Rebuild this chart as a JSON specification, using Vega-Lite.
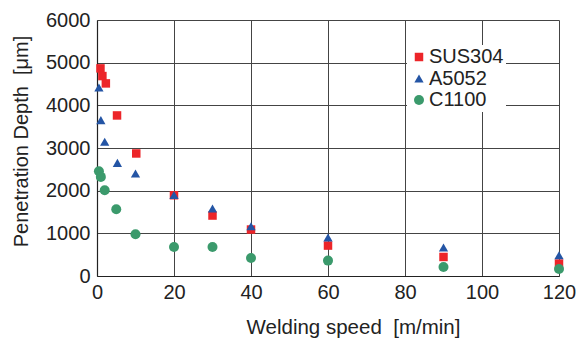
{
  "$schema": "https://vega.github.io/schema/vega-lite/v6.json",
  "width": 462,
  "height": 256,
  "autosize": {"type": "none"},
  "padding": {"left": 97, "top": 20, "right": 22, "bottom": 62},
  "background": "white",
  "config": {
    "font": "Liberation Sans",
    "view": {"stroke": null}
  },
  "data": {
    "values": [
      {"speed": 0.9, "depth": 4866, "material": "SUS304"},
      {"speed": 1.4, "depth": 4686, "material": "SUS304"},
      {"speed": 2.3, "depth": 4514, "material": "SUS304"},
      {"speed": 5.2, "depth": 3763, "material": "SUS304"},
      {"speed": 10.2, "depth": 2872, "material": "SUS304"},
      {"speed": 20, "depth": 1893, "material": "SUS304"},
      {"speed": 30, "depth": 1417, "material": "SUS304"},
      {"speed": 40, "depth": 1089, "material": "SUS304"},
      {"speed": 60, "depth": 713, "material": "SUS304"},
      {"speed": 90, "depth": 446, "material": "SUS304"},
      {"speed": 120, "depth": 291, "material": "SUS304"},
      {"speed": 0.5, "depth": 4420, "material": "A5052"},
      {"speed": 1.0, "depth": 3653, "material": "A5052"},
      {"speed": 2.0, "depth": 3144, "material": "A5052"},
      {"speed": 5.3, "depth": 2651, "material": "A5052"},
      {"speed": 10, "depth": 2403, "material": "A5052"},
      {"speed": 20, "depth": 1900, "material": "A5052"},
      {"speed": 30, "depth": 1581, "material": "A5052"},
      {"speed": 40, "depth": 1166, "material": "A5052"},
      {"speed": 60, "depth": 901, "material": "A5052"},
      {"speed": 90, "depth": 666, "material": "A5052"},
      {"speed": 120, "depth": 486, "material": "A5052"},
      {"speed": 0.5, "depth": 2457, "material": "C1100"},
      {"speed": 1.0, "depth": 2323, "material": "C1100"},
      {"speed": 2.0, "depth": 2011, "material": "C1100"},
      {"speed": 5.0, "depth": 1565, "material": "C1100"},
      {"speed": 10, "depth": 979, "material": "C1100"},
      {"speed": 20, "depth": 680, "material": "C1100"},
      {"speed": 30, "depth": 680, "material": "C1100"},
      {"speed": 40, "depth": 422, "material": "C1100"},
      {"speed": 60, "depth": 361, "material": "C1100"},
      {"speed": 90, "depth": 211, "material": "C1100"},
      {"speed": 120, "depth": 164, "material": "C1100"}
    ]
  },
  "mark": {"type": "point", "filled": true, "opacity": 1},
  "encoding": {
    "x": {
      "field": "speed",
      "type": "quantitative",
      "scale": {"domain": [0, 120], "nice": false, "zero": true},
      "axis": {
        "title": "Welding speed\u00a0\u00a0[m/min]",
        "values": [0, 20, 40, 60, 80, 100, 120],
        "ticks": false,
        "grid": true,
        "gridColor": "#444",
        "gridWidth": 1,
        "domainColor": "#222",
        "domainWidth": 1.2,
        "labelFont": "Liberation Sans",
        "labelFontSize": 20,
        "labelColor": "#222",
        "labelPadding": 6,
        "labelFlush": false,
        "titleFont": "Liberation Sans",
        "titleFontSize": 20.5,
        "titleFontWeight": "normal",
        "titleColor": "#222",
        "titleX": 256,
        "titleY": 57,
        "titleAlign": "center",
        "titleBaseline": "alphabetic"
      }
    },
    "y": {
      "field": "depth",
      "type": "quantitative",
      "scale": {"domain": [0, 6000], "nice": false},
      "axis": {
        "title": "Penetration Depth\u00a0\u00a0[μm]",
        "values": [0, 1000, 2000, 3000, 4000, 5000, 6000],
        "format": "d",
        "ticks": false,
        "grid": true,
        "gridColor": "#444",
        "gridWidth": 1,
        "domainColor": "#222",
        "domainWidth": 1.2,
        "labelFont": "Liberation Sans",
        "labelFontSize": 20,
        "labelColor": "#222",
        "labelPadding": 7,
        "labelFlush": false,
        "titleFont": "Liberation Sans",
        "titleFontSize": 20,
        "titleFontWeight": "normal",
        "titleColor": "#222",
        "titleAngle": -90,
        "titleX": -70,
        "titleY": 121,
        "titleAlign": "center",
        "titleBaseline": "alphabetic"
      }
    },
    "color": {
      "field": "material",
      "type": "nominal",
      "scale": {"domain": ["SUS304", "A5052", "C1100"], "range": ["#ec2529", "#2455a5", "#3b9a6c"]},
      "legend": {
        "title": null,
        "orient": "none",
        "legendX": 310,
        "legendY": 25,
        "fillColor": "white",
        "strokeColor": null,
        "padding": 2,
        "labelFont": "Liberation Sans",
        "labelFontSize": 20,
        "labelColor": "#222",
        "labelOffset": 0,
        "rowPadding": 1.5,
        "symbolSize": 60,
        "symbolOpacity": 1
      }
    },
    "shape": {
      "field": "material",
      "type": "nominal",
      "scale": {"domain": ["SUS304", "A5052", "C1100"], "range": ["square", "triangle-up", "circle"]}
    },
    "size": {
      "field": "material",
      "type": "nominal",
      "scale": {"domain": ["SUS304", "A5052", "C1100"], "range": [72, 100, 72]},
      "legend": null
    }
  }
}
